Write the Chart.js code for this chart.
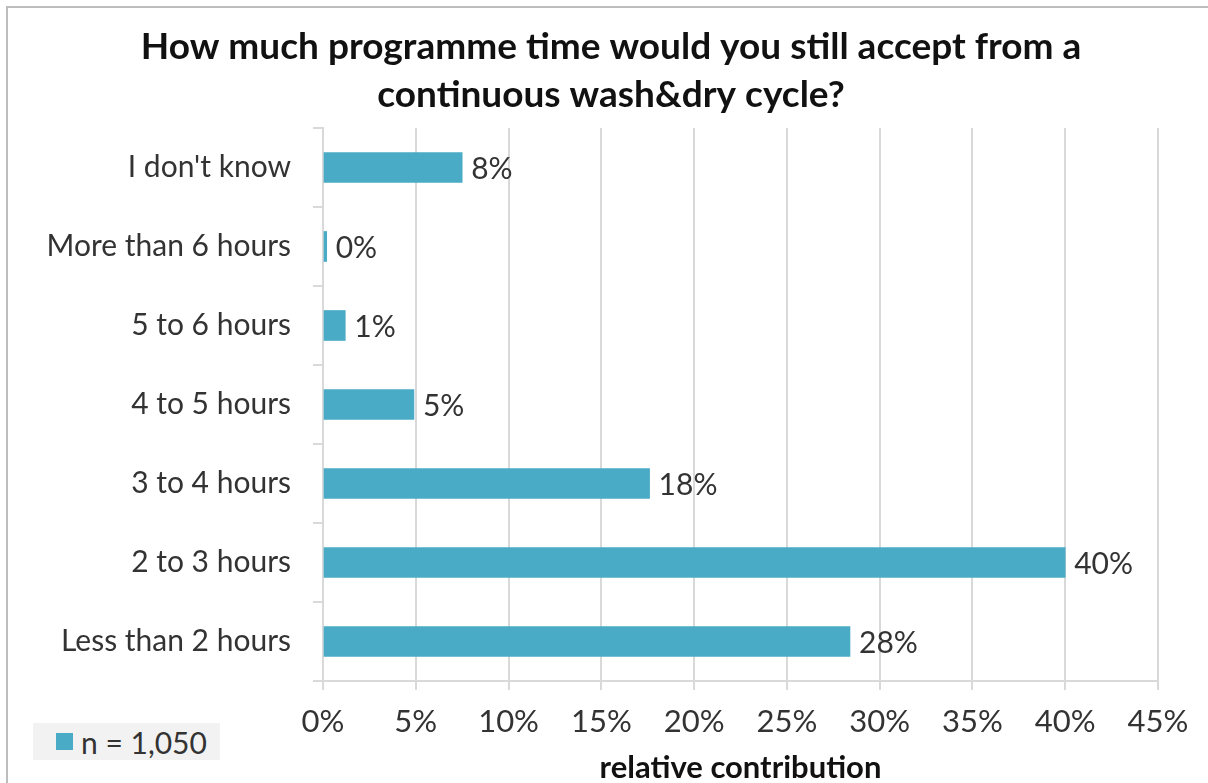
<!DOCTYPE html>
<html>
<head>
<meta charset="utf-8">
<script src="https://cdn.jsdelivr.net/npm/chart.js@4"></script>
<style>
  html, body { margin: 0; padding: 0; background: #fff; }
  #wrap { position: relative; width: 1208px; height: 783px; overflow: hidden; }
  #frame { position: absolute; left: 6px; top: 6px; width: 1210px; height: 790px; border: 2px solid #bdbdbd; box-sizing: border-box; pointer-events: none; }
  #legend { position: absolute; left: 33px; top: 723px; width: 187px; height: 37px; background: #f2f2f2;
    font-family: Lato, sans-serif; font-size: 30px; color: #333; display: flex; align-items: center; }
  #legend span.box { display: inline-block; width: 17px; height: 17px; background: #4aabc6; margin: 0 8px 0 23px; }
</style>
</head>
<body>
<div id="wrap">
  <canvas id="chart" width="1208" height="783"></canvas>
  <div id="frame"></div>
  <div id="legend"><span class="box"></span><span>n = 1,050</span></div>
</div>
<script>
const CATEGORIES = ["I don't know", 'More than 6 hours', '5 to 6 hours', '4 to 5 hours', '3 to 4 hours', '2 to 3 hours', 'Less than 2 hours'];
const SHARES = [7.5, 0.2, 1.2, 4.9, 17.6, 40.0, 28.4];
const VALUE_LABELS = ['8%', '0%', '1%', '5%', '18%', '40%', '28%'];
const TITLE_LINES = ['How much programme time would you still accept from a', 'continuous wash&dry cycle?'];
const FONT = 'Lato, sans-serif';
const BAR_COLOR = '#4aabc6';
const GRID_COLOR = '#d9d9d9';

// value labels at the end of each bar
const valueLabels = {
  id: 'valueLabels',
  afterDatasetsDraw(chart) {
    const ctx = chart.ctx;
    const meta = chart.getDatasetMeta(0);
    ctx.save();
    ctx.font = '30px ' + FONT;
    ctx.fillStyle = '#333';
    ctx.textAlign = 'left';
    ctx.textBaseline = 'middle';
    meta.data.forEach((bar, i) => {
      ctx.fillText(VALUE_LABELS[i], bar.x + 9, bar.y + 2);
    });
    ctx.restore();
  }
};

// title is centred a bit right of the canvas middle
const shiftTitle = {
  id: 'shiftTitle',
  afterLayout(chart) {
    if (chart.titleBlock) chart.titleBlock.left = 64;
  }
};

new Chart(document.getElementById('chart'), {
  type: 'bar',
  data: {
    labels: CATEGORIES,
    datasets: [{ label: 'n = 1,050', data: SHARES, backgroundColor: BAR_COLOR, barThickness: 30 }]
  },
  options: {
    indexAxis: 'y',
    responsive: false,
    animation: false,
    layout: { padding: { top: 0, right: 50, bottom: 0, left: 0 } },
    plugins: {
      legend: { display: false },
      tooltip: { enabled: false },
      title: {
        display: true,
        text: TITLE_LINES,
        color: '#111',
        font: { family: FONT, size: 37, weight: 'bold', lineHeight: 1.297 },
        padding: { top: 23, bottom: 9 }
      }
    },
    scales: {
      x: {
        min: 0, max: 45,
        ticks: { stepSize: 5, callback: v => v + '%', color: '#333', font: { family: FONT, size: 31 }, padding: 13, maxRotation: 0 },
        grid: { color: GRID_COLOR, lineWidth: 2, tickLength: 9 },
        border: { color: GRID_COLOR, width: 2 },
        title: { display: true, text: 'relative contribution', color: '#111', font: { family: FONT, size: 31, weight: 'bold', lineHeight: 1.0 }, padding: { top: 0, bottom: 0 } },
        afterFit(scale) { scale.height = 102; }
      },
      y: {
        ticks: { color: '#333', font: { family: FONT, size: 30 }, padding: 22 },
        grid: { color: GRID_COLOR, lineWidth: 2, drawOnChartArea: false, tickLength: 10, offset: true },
        border: { color: GRID_COLOR, width: 2 },
        afterFit(scale) { scale.width = 323; }
      }
    }
  },
  plugins: [valueLabels, shiftTitle]
});
</script>
</body>
</html>
